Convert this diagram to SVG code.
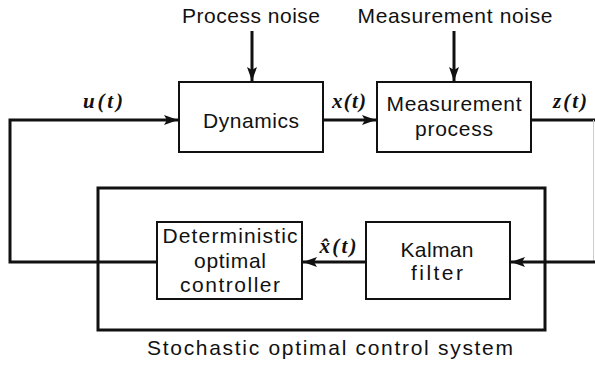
<svg xmlns="http://www.w3.org/2000/svg" width="595" height="365" viewBox="0 0 595 365">
  <style>
    .box { fill: #fff; stroke: #111; stroke-width: 2; }
    .wire { fill: none; stroke: #111; stroke-width: 3; }
    .lbl { font-family: "Liberation Sans", Arial, sans-serif; font-size: 21px; fill: #111; }
    .sig { font-family: "Liberation Serif", "Times New Roman", serif; font-size: 21px; font-style: italic; font-weight: bold; fill: #111; }
  </style>
  <defs>
    <marker id="arrBig" markerWidth="14" markerHeight="10" refX="14" refY="5" orient="auto" markerUnits="userSpaceOnUse">
      <path d="M0,0 L14,5 L0,10 L3,5 Z" fill="#111"/>
    </marker>
  </defs>
  <rect width="595" height="365" fill="#fff"/>

  <!-- Outer enclosure -->
  <g id="stochastic-system">
    <rect x="98" y="188" width="447" height="142" fill="none" stroke="#111" stroke-width="3"/>
    <text class="lbl" x="330" y="355" text-anchor="middle" textLength="366" lengthAdjust="spacing">Stochastic optimal control system</text>
  </g>

  <!-- Connectors -->
  <g id="connectors">
    <line class="wire" x1="252" y1="31" x2="252" y2="81" marker-end="url(#arrBig)"/>
    <line class="wire" x1="454" y1="31" x2="454" y2="81" marker-end="url(#arrBig)"/>
    <polyline class="wire" points="157,262 10,262 10,120 178,120" marker-end="url(#arrBig)"/>
    <line class="wire" x1="323" y1="120" x2="376" y2="120" marker-end="url(#arrBig)"/>
    <line class="wire" x1="531" y1="120" x2="595" y2="120"/>
    <line x1="593.5" y1="120" x2="593.5" y2="262" stroke="#ccc" stroke-width="1"/>
    <line class="wire" x1="595" y1="262" x2="511" y2="262" marker-end="url(#arrBig)"/>
    <line class="wire" x1="366" y1="262" x2="303" y2="262" marker-end="url(#arrBig)"/>
  </g>

  <!-- Signal labels -->
  <g id="signal-labels">
    <text class="lbl" x="251" y="23" text-anchor="middle" textLength="138" lengthAdjust="spacing">Process noise</text>
    <text class="lbl" x="455" y="23" text-anchor="middle" textLength="195" lengthAdjust="spacing">Measurement noise</text>
    <text class="sig" x="103" y="108" text-anchor="middle" textLength="40" lengthAdjust="spacing">u(t)</text>
    <text class="sig" x="349" y="108" text-anchor="middle" textLength="34" lengthAdjust="spacing">x(t)</text>
    <text class="sig" x="570" y="108" text-anchor="middle" textLength="34" lengthAdjust="spacing">z(t)</text>
    <text class="sig" x="338" y="253" text-anchor="middle" textLength="37" lengthAdjust="spacing">x̂(t)</text>
  </g>

  <g id="dynamics">
    <rect class="box" x="179" y="82" width="144" height="70"/>
    <text class="lbl" x="251" y="128" text-anchor="middle" textLength="96" lengthAdjust="spacing">Dynamics</text>
  </g>

  <g id="measurement">
    <rect class="box" x="377" y="82" width="154" height="70"/>
    <text class="lbl" x="454" y="111" text-anchor="middle" textLength="135" lengthAdjust="spacing">Measurement</text>
    <text class="lbl" x="454" y="136" text-anchor="middle" textLength="78" lengthAdjust="spacing">process</text>
  </g>

  <g id="controller">
    <rect class="box" x="157" y="222" width="145" height="77"/>
    <text class="lbl" x="230" y="243" text-anchor="middle" textLength="135" lengthAdjust="spacing">Deterministic</text>
    <text class="lbl" x="230" y="268" text-anchor="middle" textLength="72" lengthAdjust="spacing">optimal</text>
    <text class="lbl" x="230" y="292" text-anchor="middle" textLength="100" lengthAdjust="spacing">controller</text>
  </g>

  <g id="kalman">
    <rect class="box" x="366" y="222" width="144" height="77"/>
    <text class="lbl" x="437" y="257" text-anchor="middle" textLength="73" lengthAdjust="spacing">Kalman</text>
    <text class="lbl" x="437" y="280" text-anchor="middle" textLength="52" lengthAdjust="spacing">filter</text>
  </g>
</svg>
